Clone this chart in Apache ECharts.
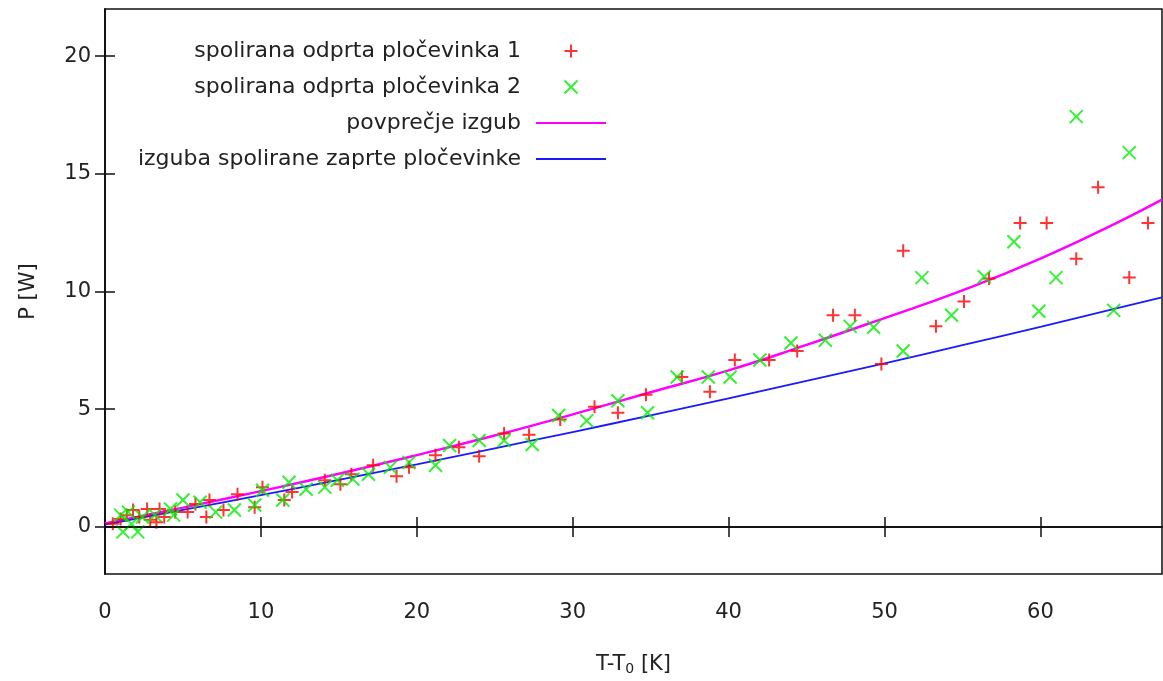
<!DOCTYPE html>
<html>
<head>
<meta charset="utf-8">
<script src="https://cdn.jsdelivr.net/npm/echarts@6/dist/echarts.min.js"></script>
<style>
html,body{margin:0;padding:0;background:#fff;}
#chart{width:1163px;height:681px;}
</style>
</head>
<body>
<div id="chart"></div>
<script>
// ---- data ----
const redX = [0.5,1.0,1.4,1.8,2.2,2.7,2.9,3.3,3.5,3.8,4.5,5.3,5.8,6.5,6.7,7.6,8.5,9.6,10.1,11.5,12.0,14.1,15.1,15.8,17.2,18.7,19.5,21.2,22.7,24.0,25.6,27.2,29.2,31.4,32.9,34.7,37.0,38.8,40.4,42.6,44.4,46.7,48.1,49.8,51.2,53.3,55.1,56.7,58.7,60.4,62.3,63.7,65.7,66.9];
const redY = [0.13,0.34,0.5,0.72,0.42,0.76,0.3,0.2,0.76,0.42,0.63,0.63,0.97,0.42,1.14,0.72,1.39,0.84,1.69,1.14,1.48,1.98,1.81,2.24,2.62,2.15,2.53,3.04,3.38,3.0,3.97,3.92,4.56,5.1,4.85,5.61,6.37,5.74,7.09,7.09,7.47,8.99,8.99,6.92,11.73,8.52,9.58,10.55,12.91,12.91,11.39,14.43,10.59,12.91];
const greenX = [1.0,1.15,1.5,1.7,2.1,2.4,3.2,4.2,4.4,5.0,6.1,7.1,8.3,9.6,10.1,11.4,11.8,12.9,14.1,14.9,15.9,16.9,18.3,19.5,21.2,22.1,24.0,25.6,27.4,29.1,30.9,32.9,34.8,36.7,38.7,40.1,42.0,44.0,46.2,47.8,49.3,51.2,52.4,54.3,56.4,58.3,59.9,61.0,62.3,64.7,65.7];
const greenY = [0.5,-0.21,0.63,0.13,-0.21,0.42,0.5,0.76,0.5,1.14,1.05,0.63,0.72,0.93,1.56,1.14,1.9,1.6,1.69,1.98,2.03,2.24,2.53,2.74,2.62,3.46,3.67,3.67,3.5,4.73,4.51,5.36,4.85,6.37,6.37,6.37,7.09,7.81,7.93,8.52,8.48,7.47,10.59,8.99,10.63,12.11,9.16,10.59,17.43,9.2,15.9];
const curveX = [0,5,10,15,20,25,30,35,40,45,50,55,60,65,67.8];
const avgLoss = [0.15,0.82,1.52,2.26,3.05,3.88,4.78,5.72,6.65,7.73,8.87,10.05,11.4,12.95,13.9];
const closedLoss = [0.1,0.72,1.35,2.0,2.66,3.34,4.03,4.74,5.46,6.2,6.95,7.72,8.5,9.3,9.75];
const xTicks = [0,10,20,30,40,50,60];
const yTicks = [0,5,10,15,20];
const names = ['spolirana odprta pločevinka 1','spolirana odprta pločevinka 2','povprečje izgub','izguba spolirane zaprte pločevinke'];

const zip = (a,b) => a.map((v,i)=>[v,b[i]]);
const PLUS = 'path://M0,5L10,5M5,0L5,10';
const CROSS = 'path://M0,0L10,10M10,0L0,10';
const FONT = 'DejaVu Sans';
const TXT = '#222';
const CLEAR = 'rgba(0,0,0,0)';

const chart = echarts.init(document.getElementById('chart'), null, {renderer:'canvas'});
const xBase = {
  type:'value', min:0, max:67.8,
  axisLine:{show:true, lineStyle:{color:'#111', width:1.5}},
  splitLine:{show:false},
};
const yBase = {
  type:'value', min:-2, max:22,
  axisLine:{show:true, lineStyle:{color:'#111', width:1.5}},
  splitLine:{show:false},
};
chart.setOption({
  backgroundColor:'#fff',
  animation:false,
  textStyle:{fontFamily:FONT},
  grid:{left:105, right:1, top:9, bottom:104, show:true, borderColor:'#111', borderWidth:1.5, containLabel:false},
  legend:{
    orient:'vertical', align:'right', right:551, top:35,
    itemWidth:70, itemHeight:13, itemGap:14,
    textStyle:{fontFamily:FONT, fontSize:22, color:TXT, lineHeight:21, padding:[0,10,0,0]},
    data:[
      {name:names[0], icon:PLUS},
      {name:names[1], icon:CROSS},
      {name:names[2], itemStyle:{color:CLEAR, borderColor:CLEAR, borderWidth:0}},
      {name:names[3], itemStyle:{color:CLEAR, borderColor:CLEAR, borderWidth:0}}
    ]
  },
  xAxis:[
    Object.assign({}, xBase, {
      position:'bottom',
      axisTick:{show:true, inside:true, length:10, lineStyle:{color:'#111', width:1.5}, customValues:xTicks},
      axisLabel:{show:true, margin:28, fontFamily:FONT, fontSize:21, color:TXT, customValues:xTicks},
      name:'T-T{sub|0} [K]', nameLocation:'middle', nameGap:80,
      nameTextStyle:{fontFamily:FONT, fontSize:21, color:TXT, rich:{sub:{fontFamily:FONT, fontSize:14, color:TXT, verticalAlign:'bottom', padding:[8,0,0,0]}}}
    }),
    Object.assign({}, xBase, {
      position:'top',
      axisTick:{show:true, inside:true, length:10, lineStyle:{color:'#111', width:1.5}, customValues:xTicks},
      axisLabel:{show:false}
    })
  ],
  yAxis:[
    Object.assign({}, yBase, {
      position:'left',
      axisTick:{show:true, inside:true, length:10, lineStyle:{color:'#111', width:1.5}, customValues:yTicks},
      axisLabel:{show:true, margin:14, fontFamily:FONT, fontSize:21, color:TXT, customValues:yTicks},
      name:'P [W]', nameLocation:'middle', nameGap:66, nameRotate:90,
      nameTextStyle:{fontFamily:FONT, fontSize:21, color:TXT}
    }),
    Object.assign({}, yBase, {
      position:'right',
      axisTick:{show:true, inside:true, length:10, lineStyle:{color:'#111', width:1.5}, customValues:yTicks},
      axisLabel:{show:false}
    })
  ],
  series:[
    {
      name:names[0], type:'scatter', data:zip(redX, redY),
      symbol:PLUS, symbolSize:13, symbolKeepAspect:true,
      itemStyle:{color:CLEAR, borderColor:'#ff0000', borderWidth:2},
      z:3,
      markLine:{silent:true, symbol:'none', label:{show:false}, lineStyle:{color:'#111', width:1.5, type:'solid'}, data:[{yAxis:0}], animation:false}
    },
    {
      name:names[1], type:'scatter', data:zip(greenX, greenY),
      symbol:CROSS, symbolSize:13, symbolKeepAspect:true,
      itemStyle:{color:CLEAR, borderColor:'#00ee00', borderWidth:2},
      z:3
    },
    {
      name:names[2], type:'line', data:zip(curveX, avgLoss), smooth:true,
      showSymbol:false, symbol:'none',
      lineStyle:{color:'#ff00ff', width:2.5}, itemStyle:{color:'#ff00ff'}, z:2
    },
    {
      name:names[3], type:'line', data:zip(curveX, closedLoss), smooth:true,
      showSymbol:false, symbol:'none',
      lineStyle:{color:'#1a1aff', width:1.8}, itemStyle:{color:'#1a1aff'}, z:2
    }
  ]
});
</script>
</body>
</html>
